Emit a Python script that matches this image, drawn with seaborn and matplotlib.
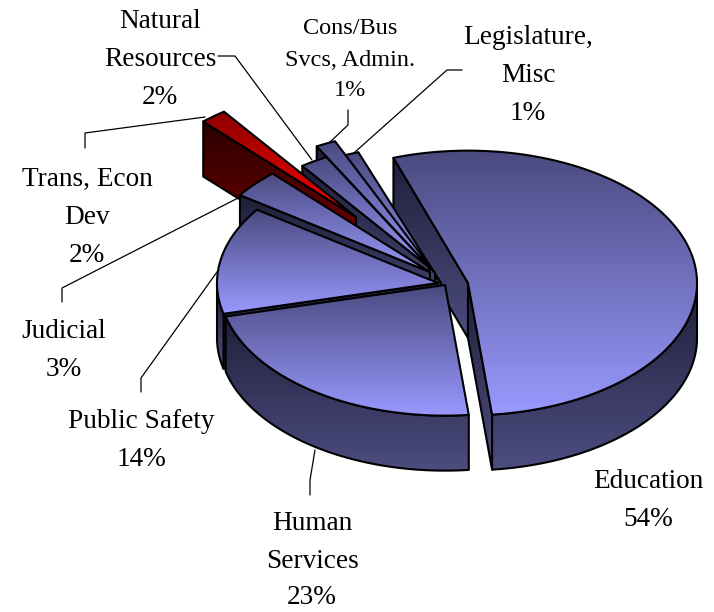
import numpy as np
import matplotlib
matplotlib.use("Agg")
import matplotlib.pyplot as plt
from matplotlib.patches import Polygon
import seaborn as sns

sns.set_theme(style="white")
plt.rcParams["font.family"] = ["Liberation Serif", "DejaVu Serif"]

# data
categories = ["Education", "Human Services", "Public Safety", "Judicial",
              "Trans, Econ Dev", "Natural Resources", "Cons/Bus Svcs, Admin.",
              "Legislature, Misc"]
values = [53.6, 22.8, 13.6, 3.4, 1.9, 2.1, 1.3, 1.0]
percent_labels = ["54%", "23%", "14%", "3%", "2%", "2%", "1%", "1%"]
label_lines = [["Education"], ["Human", "Services"], ["Public Safety"], ["Judicial"],
               ["Trans, Econ", "Dev"], ["Natural", "Resources"], ["Cons/Bus", "Svcs, Admin."],
               ["Legislature,", "Misc"]]

# layout (pixels)
START_ANGLE = 341.0
SQUASH = 0.578
DEPTH = 55
apex = [(468, 283), (445, 285), (438, 283), (430, 272), (356, 217), (429, 267), (435, 273), (441, 283)]
radius = [229, 226, 221, 232, 225, 216, 249, 241]
draw_order = [7, 6, 5, 4, 3, 2, 1, 0]
label_anchor = [(648, 481), (312, 524), (141, 422), (64, 332), (87, 179), (160, 22), (350, 29), (528, 37)]
label_size = [19.6, 19.6, 19.6, 19.6, 19.6, 19.6, 17.5, 19.6]
line_pitch = [38, 37, 38, 38, 38, 38, 31, 38]
leaders = [None,
           [(315, 450), (310, 480), (310, 495)],
           [(222, 265), (141, 378), (141, 392)],
           [(240, 197), (62, 288), (62, 302)],
           [(205, 117), (85, 133), (85, 148)],
           [(218, 56), (235, 56), (312, 160)],
           [(330, 142), (348, 125), (348, 110)],
           [(355, 152), (447, 70), (462, 70)]]

blue_top = sns.blend_palette(["#4a4a80", "#9999ff"], as_cmap=True)
blue_side = sns.blend_palette(["#1f1f3a", "#4d4d80"], as_cmap=True)
red_top = sns.blend_palette(["#8b0000", "#ff0000"], as_cmap=True)
red_side = sns.blend_palette(["#2a0000", "#800000"], as_cmap=True)

fig = plt.figure(figsize=(7.14, 6.12), dpi=100)
ax = fig.add_axes([0, 0, 1, 1])
ax.set_xlim(0, 714)
ax.set_ylim(612, 0)
ax.axis("off")
ax.set_autoscale_on(False)

z = [1]


def face(points, cmap, lw=1.5):
    """Polygon with a vertical gradient clipped to it."""
    pts = np.asarray(points)
    z[0] += 1
    x0, x1 = pts[:, 0].min(), pts[:, 0].max()
    y0, y1 = pts[:, 1].min(), pts[:, 1].max()
    grad = np.linspace(0, 1, 256).reshape(-1, 1)
    im = ax.imshow(grad, cmap=cmap, extent=(x0, x1, y1, y0), aspect="auto",
                   zorder=z[0], interpolation="bilinear")
    poly = Polygon(pts, closed=True, facecolor="none", edgecolor="black", lw=lw,
                   joinstyle="round", zorder=z[0] + 0.5)
    ax.add_patch(poly)
    im.set_clip_path(poly)


def arc(i, a0, a1):
    t = np.radians(np.linspace(a0, a1, max(int(abs(a1 - a0)) * 2, 2)))
    cx, cy = apex[i]
    return np.column_stack([cx + radius[i] * np.sin(t), cy - radius[i] * SQUASH * np.cos(t)])


def cut_face(i, angle, cmap):
    p = arc(i, angle, angle)[0]
    c = np.array(apex[i], float)
    d = np.array([0, DEPTH])
    face([c, p, p + d, c + d], cmap)


angles = START_ANGLE + np.cumsum([0] + values) * 3.6
spans = [(angles[k], angles[k + 1]) for k in range(len(values))]
is_red = [name.startswith("Trans") for name in categories]


def faces_viewer(normal_deg):
    return np.cos(np.radians(normal_deg)) < 0


# the far cut face of the largest slice sits behind everything else
face_first = 0
cut_face(face_first, spans[face_first][0], blue_side)

for i in draw_order:
    a0, a1 = spans[i]
    top_cmap = red_top if is_red[i] else blue_top
    side_cmap = red_side if is_red[i] else blue_side
    fills_gap = categories[i] == "Public Safety"
    if i != face_first and (faces_viewer(a0 - 90) or fills_gap):
        cut_face(i, a0, side_cmap)
    if faces_viewer(a1 + 90):
        cut_face(i, a1, side_cmap)
    # rim: only the part of the arc turned to the viewer (90..270 deg, also modulo 360)
    for lo, hi in [(90, 270), (450, 630)]:
        r0, r1 = max(a0, lo), min(a1, hi)
        if r1 > r0:
            edge = arc(i, r0, r1)
            face(np.vstack([edge, edge[::-1] + [0, DEPTH]]), side_cmap)
    top = np.vstack([[apex[i]], arc(i, a0, a1)])
    face(top, top_cmap)

for i, pts in enumerate(leaders):
    if pts:
        xs, ys = zip(*pts)
        ax.plot(xs, ys, color="black", lw=0.9, zorder=0.5 if i in (1, 2, 3, 4) else 1)

for i, lines in enumerate(label_lines):
    x, y = label_anchor[i]
    for k, s in enumerate(lines + [percent_labels[i]]):
        ax.text(x, y + k * line_pitch[i], s, ha="center", va="center",
                fontsize=label_size[i], color="black", zorder=1000)

fig.savefig("out.png", dpi=100, facecolor="white")
